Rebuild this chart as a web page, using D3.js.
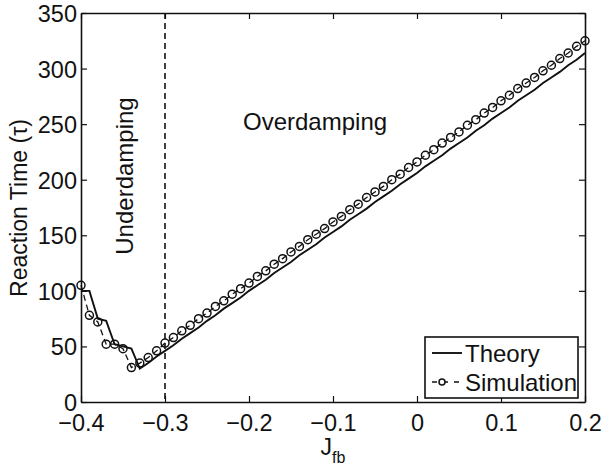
<!DOCTYPE html>
<html>
<head>
<meta charset="utf-8">
<script src="https://cdn.jsdelivr.net/npm/d3@7"></script>
<style>
  html, body { margin: 0; padding: 0; background: #fff; }
  svg { display: block; }
  text { font-family: "Liberation Sans", Arial, Helvetica, sans-serif; fill: #111; }
</style>
</head>
<body>
<svg id="chart" width="602" height="467"></svg>
<script>
// ---- data ----
const jfb = [-0.40,-0.39,-0.38,-0.37,-0.36,-0.35,-0.34,-0.33,-0.32,-0.31,
             -0.30,-0.29,-0.28,-0.27,-0.26,-0.25,-0.24,-0.23,-0.22,-0.21,
             -0.20,-0.19,-0.18,-0.17,-0.16,-0.15,-0.14,-0.13,-0.12,-0.11,
             -0.10,-0.09,-0.08,-0.07,-0.06,-0.05,-0.04,-0.03,-0.02,-0.01,
              0.00, 0.01, 0.02, 0.03, 0.04, 0.05, 0.06, 0.07, 0.08, 0.09,
              0.10, 0.11, 0.12, 0.13, 0.14, 0.15, 0.16, 0.17, 0.18, 0.19, 0.20];
const theory = [100,100,75,73,52,50,48,30,35,41,
                46,51,57,62,67,73,78,84,89,94,
                100,105,110,116,121,126,132,137,142,148,
                153,158,164,169,174,180,185,190,196,201,
                206,212,217,222,228,233,238,244,249,255,
                260,265,271,276,281,287,292,297,303,308,314];
const simulation = [105,78,72,52,52,48,31,35,40,46,
                    53,58,64,69,75,80,86,91,97,102,
                    107,113,118,124,129,135,140,146,151,156,
                    162,167,173,178,184,189,194,200,205,211,
                    216,222,227,233,238,243,249,254,260,265,
                    271,276,282,287,292,298,303,309,314,320,325];
const xTicks = [-0.4,-0.3,-0.2,-0.1,0,0.1,0.2];
const yTicks = [0,50,100,150,200,250,300,350];
const boundaryX = -0.3;
const legendLabels = ["Theory","Simulation"];

// ---- layout ----
const svg = d3.select("#chart");
const pL = 81, pR = 585, pT = 13, pB = 402;
const x = d3.scaleLinear().domain([-0.4, 0.2]).range([pL, pR]);
const y = d3.scaleLinear().domain([0, 350]).range([pB, pT]);
const fmtX = v => (v === 0 ? "0" : (v < 0 ? "\u2212" : "") + Math.abs(v).toFixed(1));
const FS = 23.5;

// axes with inward ticks
const tickLen = 6;
const gx = svg.append("g").attr("transform", `translate(0,${pB})`)
  .call(d3.axisBottom(x).tickValues(xTicks).tickSizeInner(-tickLen).tickSizeOuter(0).tickFormat(fmtX));
const gxTop = svg.append("g").attr("transform", `translate(0,${pT})`)
  .call(d3.axisTop(x).tickValues(xTicks).tickSizeInner(-tickLen).tickSizeOuter(0).tickFormat(""));
const gy = svg.append("g").attr("transform", `translate(${pL},0)`)
  .call(d3.axisLeft(y).tickValues(yTicks).tickSizeInner(-tickLen).tickSizeOuter(0));
const gyR = svg.append("g").attr("transform", `translate(${pR},0)`)
  .call(d3.axisRight(y).tickValues(yTicks).tickSizeInner(-tickLen).tickSizeOuter(0).tickFormat(""));
[gx, gxTop, gy, gyR].forEach(g => {
  g.select(".domain").attr("stroke", "#111").attr("stroke-width", 1.6);
  g.selectAll(".tick line").attr("stroke", "#111").attr("stroke-width", 1.2);
  g.selectAll(".tick text").attr("font-size", FS).attr("fill", "#111")
    .attr("font-family", "'Liberation Sans', Arial, sans-serif");
});
gx.selectAll(".tick text").attr("y", 29).attr("dy", 0);
gy.selectAll(".tick text").attr("x", -4).attr("dy", "0.36em");

// boundary dashed line
svg.append("line")
  .attr("x1", x(boundaryX)).attr("x2", x(boundaryX))
  .attr("y1", y(350)).attr("y2", y(0))
  .attr("stroke", "#111").attr("stroke-width", 1.6).attr("stroke-dasharray", "6,4");

// lines
const line = d3.line().x(d => x(d[0])).y(d => y(d[1]));
const thData = jfb.map((v, i) => [v, theory[i]]);
const simData = jfb.map((v, i) => [v, simulation[i]]);

svg.append("path").datum(simData).attr("d", line)
  .attr("fill", "none").attr("stroke", "#111").attr("stroke-width", 1.3).attr("stroke-dasharray", "6,4");
svg.append("path").datum(thData).attr("d", line)
  .attr("fill", "none").attr("stroke", "#111").attr("stroke-width", 1.9);
svg.append("g").selectAll("circle").data(simData).join("circle")
  .attr("cx", d => x(d[0])).attr("cy", d => y(d[1])).attr("r", 4)
  .attr("fill", "none").attr("stroke", "#111").attr("stroke-width", 1.5);

// annotations
svg.append("text").attr("x", 243).attr("y", 130).attr("font-size", 24).text("Overdamping");
svg.append("text").attr("transform", "translate(133,176) rotate(-90)")
  .attr("text-anchor", "middle").attr("font-size", 24).text("Underdamping");

// axis labels
svg.append("text").attr("transform", "translate(27,208) rotate(-90)")
  .attr("text-anchor", "middle").attr("font-size", 23).text("Reaction Time (\u03C4)");
const xl = svg.append("text").attr("x", 333).attr("y", 455).attr("text-anchor", "middle").attr("font-size", 23);
xl.append("tspan").text("J");
xl.append("tspan").attr("font-size", 16).attr("dy", 8).text("fb");

// legend
const lg = svg.append("g");
lg.append("rect").attr("x", 425).attr("y", 337).attr("width", 153).attr("height", 61)
  .attr("fill", "#fff").attr("stroke", "#111").attr("stroke-width", 1.6);
lg.append("line").attr("x1", 432).attr("x2", 462).attr("y1", 353).attr("y2", 353)
  .attr("stroke", "#111").attr("stroke-width", 1.9);
lg.append("text").attr("x", 465).attr("y", 362).attr("font-size", 24).text(legendLabels[0]);
lg.append("line").attr("x1", 432).attr("x2", 462).attr("y1", 382).attr("y2", 382)
  .attr("stroke", "#111").attr("stroke-width", 1.3).attr("stroke-dasharray", "5,6");
lg.append("circle").attr("cx", 442).attr("cy", 382).attr("r", 3)
  .attr("fill", "#fff").attr("stroke", "#111").attr("stroke-width", 1.5);
lg.append("text").attr("x", 465).attr("y", 391).attr("font-size", 24).text(legendLabels[1]);
</script>
</body>
</html>
